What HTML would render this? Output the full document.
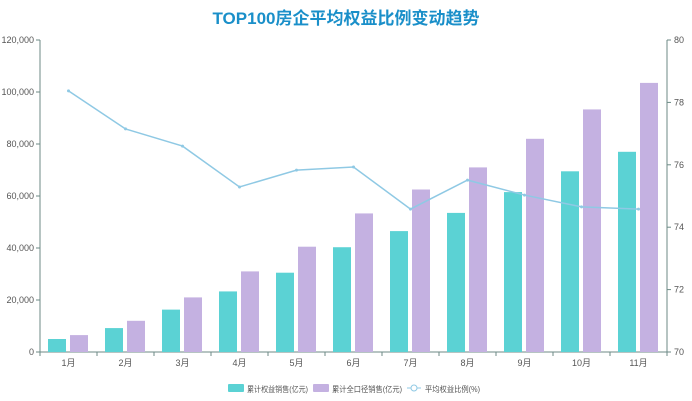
<!DOCTYPE html>
<html><head><meta charset="utf-8"><style>
body{margin:0;background:#fff;font-family:"Liberation Sans","Noto Sans CJK SC",sans-serif}
</style></head><body>
<svg id="c" width="692" height="401" style="display:block">
<text x="346" y="24" text-anchor="middle" font-size="17" font-weight="bold" fill="#1a8fc9" font-family="Liberation Sans,Noto Sans CJK SC,sans-serif">TOP100房企平均权益比例变动趋势</text>
</svg>
<script>
const categories=['1月','2月','3月','4月','5月','6月','7月','8月','9月','10月','11月'];
const equitySales=[5000,9200,16300,23300,30500,40300,46500,53500,61500,69500,77000];
const totalSales=[6500,12000,21000,31000,40500,53300,62500,71000,82000,93300,103500];
const equityRatio=[78.37,77.15,76.6,75.29,75.83,75.93,74.58,75.51,75.03,74.65,74.58];
const leftTicks=[0,20000,40000,60000,80000,100000,120000];
const rightTicks=[70,72,74,76,78,80];
const svg=document.getElementById('c');const NS='http://www.w3.org/2000/svg';
const X0=40,X1=667,Y0=352,Y1=40,bw=(X1-X0)/categories.length;
const yL=v=>Y0-(v/120000)*(Y0-Y1);
const yR=v=>Y0-((v-70)/10)*(Y0-Y1);
const xC=i=>X0+bw*(i+0.5);
function mk(t,a,txt){const e=document.createElementNS(NS,t);for(const k in a)e.setAttribute(k,a[k]);if(txt!=null)e.textContent=txt;svg.appendChild(e);return e;}
let e;
e=mk('line',{x1:X0,y1:Y1,x2:X0,y2:Y0,stroke:'#6c8a85'});


e=mk('line',{x1:X1,y1:Y1,x2:X1,y2:Y0,stroke:'#6c8a85'});


e=mk('line',{x1:X0,y1:Y0,x2:X1,y2:Y0,stroke:'#6c8a85'});


leftTicks.forEach(v=>{mk('line',{x1:X0-4,x2:X0,y1:yL(v),y2:yL(v),stroke:'#6c8a85'});
e=mk('text',{x:X0-6,y:yL(v)+3,'text-anchor':'end','font-size':9,fill:'#555'},v.toLocaleString('en-US'));

});
rightTicks.forEach(v=>{mk('line',{x1:X1,x2:X1+4,y1:yR(v),y2:yR(v),stroke:'#6c8a85'});
e=mk('text',{x:X1+7,y:yR(v)+3,'font-size':9,fill:'#555'},v);

});
for(let i=0;i<=categories.length;i++)mk('line',{x1:X0+bw*i,x2:X0+bw*i,y1:Y0,y2:Y0+4,stroke:'#6c8a85'});
categories.forEach((c,i)=>{
e=mk('text',{x:xC(i),y:Y0+14,'text-anchor':'middle','font-size':9,fill:'#555'},c);


e=mk('rect',{x:xC(i)-20.5,y:yL(equitySales[i]),width:18,height:Y0-yL(equitySales[i]),fill:'#5bd2d4'});


e=mk('rect',{x:xC(i)+1.5,y:yL(totalSales[i]),width:18,height:Y0-yL(totalSales[i]),fill:'#c4b1e1'});


});
e=mk('polyline',{points:equityRatio.map((v,i)=>xC(i)+','+yR(v)).join(' '),fill:'none',stroke:'#8fc9e4','stroke-width':1.5});


equityRatio.forEach((v,i)=>{e=mk('circle',{cx:xC(i),cy:yR(v),r:1.5,fill:'#8fc9e4'});

});
// legend
e=mk('rect',{x:228,y:384,width:16,height:8,fill:'#5bd2d4',rx:1});


e=mk('text',{x:247,y:392,'font-size':8,fill:'#555',textLength:61,lengthAdjust:'spacingAndGlyphs'},'累计权益销售(亿元)');


e=mk('rect',{x:313,y:384,width:16,height:8,fill:'#c4b1e1',rx:1});


e=mk('text',{x:332,y:392,'font-size':8,fill:'#555',textLength:70,lengthAdjust:'spacingAndGlyphs'},'累计全口径销售(亿元)');


mk('line',{x1:407,x2:421,y1:388,y2:388,stroke:'#8fc9e4'});
e=mk('circle',{cx:414,cy:388,r:3,fill:'#fff',stroke:'#8fc9e4'});


e=mk('text',{x:425,y:392,'font-size':8,fill:'#555',textLength:55,lengthAdjust:'spacingAndGlyphs'},'平均权益比例(%)');


</script>
</body></html>
